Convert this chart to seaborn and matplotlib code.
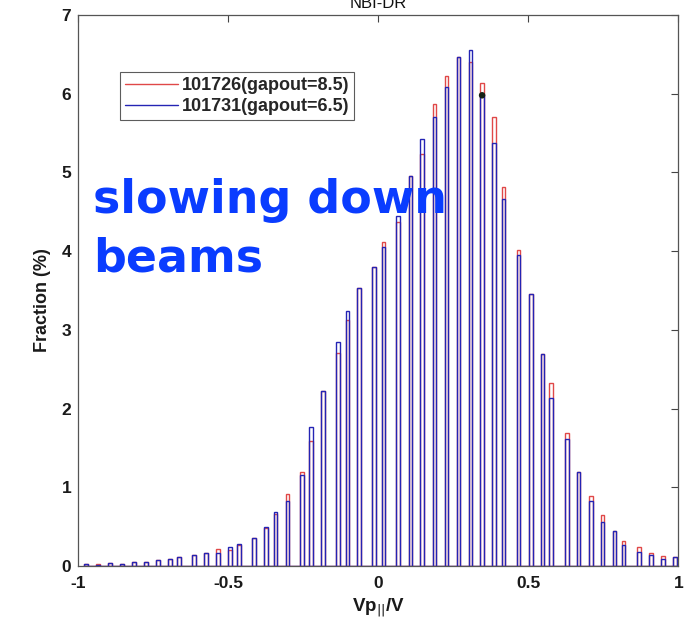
import numpy as np
import pandas as pd
import matplotlib
matplotlib.use("Agg")
import matplotlib.pyplot as plt
from matplotlib.lines import Line2D
import seaborn as sns

# ---- data ----
vpar = [-0.974, -0.935, -0.895, -0.855, -0.815, -0.774, -0.734, -0.694, -0.665, -0.614,
        -0.574, -0.534, -0.494, -0.464, -0.414, -0.374, -0.343, -0.303, -0.254, -0.225,
        -0.185, -0.135, -0.103, -0.064, -0.014, 0.017, 0.065, 0.107, 0.146, 0.187,
        0.227, 0.267, 0.307, 0.346, 0.386, 0.417, 0.467, 0.508, 0.547, 0.576,
        0.628, 0.667, 0.708, 0.747, 0.787, 0.817, 0.868, 0.909, 0.948, 0.988]

frac_101726 = [0.03, 0.025, 0.04, 0.03, 0.055, 0.055, 0.07, 0.085, 0.115, 0.14,
               0.165, 0.21, 0.20, 0.27, 0.36, 0.48, 0.66, 0.91, 1.20, 1.59,
               2.22, 2.71, 3.13, 3.53, 3.80, 4.12, 4.37, 4.95, 5.23, 5.87,
               6.23, 6.47, 6.40, 6.13, 5.70, 4.81, 4.02, 3.45, 2.69, 2.33,
               1.69, 1.19, 0.89, 0.65, 0.44, 0.32, 0.245, 0.17, 0.13, 0.11]

frac_101731 = [0.02, 0.015, 0.04, 0.03, 0.055, 0.05, 0.07, 0.085, 0.115, 0.14,
               0.165, 0.17, 0.245, 0.275, 0.36, 0.50, 0.69, 0.83, 1.15, 1.77,
               2.22, 2.84, 3.24, 3.53, 3.80, 4.05, 4.45, 4.95, 5.43, 5.70,
               6.08, 6.47, 6.56, 5.98, 5.37, 4.66, 3.95, 3.45, 2.69, 2.14,
               1.61, 1.19, 0.82, 0.56, 0.44, 0.27, 0.18, 0.14, 0.085, 0.11]

marker_x = [0.346]
marker_y = [5.98]

labels = ["101726(gapout=8.5)", "101731(gapout=6.5)"]
xticks = [-1, -0.5, 0, 0.5, 1]
xticklabels = ["-1", "-0.5", "0", "0.5", "1"]
yticks = [0, 1, 2, 3, 4, 5, 6, 7]

# ---- style ----
sns.set_style("white")
plt.rcParams["font.family"] = ["Liberation Sans", "DejaVu Sans"]

RED = "#e04848"
BLUE = "#2424b4"

fig = plt.figure(figsize=(6.99, 6.39), dpi=100)
W, H = 699, 639
ax = fig.add_axes([78.3 / W, 1 - 566 / H, 600 / W, 551 / H])

bw = 0.012
edges = np.sort(np.concatenate([np.array(vpar) - bw / 2, np.array(vpar) + bw / 2])).tolist()

df = pd.DataFrame({"vpar": vpar, "a": frac_101726, "b": frac_101731})
sns.histplot(data=df, x="vpar", weights="a", bins=edges, fill=False,
             element="bars", color=RED, linewidth=1.0, ax=ax)
sns.histplot(data=df, x="vpar", weights="b", bins=edges, fill=False,
             element="bars", color=BLUE, linewidth=1.0, ax=ax)
sns.scatterplot(x=marker_x, y=marker_y, color="#152015", s=22, ax=ax, zorder=5,
                edgecolor="none")

ax.set_xlim(-1, 1)
ax.set_ylim(0, 7)
ax.set_xticks(xticks)
ax.set_xticklabels(xticklabels)
ax.set_yticks(yticks)
for lab in ax.get_xticklabels() + ax.get_yticklabels():
    lab.set_fontweight("bold")
    lab.set_fontsize(12.5)
    lab.set_color("#1a1a1a")
ax.tick_params(axis="both", direction="in", length=5, width=0.8, color="#444444",
               top=True, right=True)
ax.tick_params(axis="x", pad=7)
ax.tick_params(axis="y", pad=5)
for s in ax.spines.values():
    s.set_visible(True)
    s.set_color("#555555")
    s.set_linewidth(0.9)

ax.set_ylabel("Fraction (%)", fontsize=13, fontweight="bold", color="#1a1a1a")
ax.yaxis.set_label_coords(-0.045, 0.483)
ax.set_xlabel("Vp$_{||}$/V", fontsize=13.5, fontweight="bold", color="#1a1a1a")
ax.xaxis.set_label_coords(0.5, -0.055)

handles = [Line2D([], [], color=RED, lw=1.0), Line2D([], [], color=BLUE, lw=1.0)]
leg = ax.legend(handles, labels, loc="upper left",
                bbox_to_anchor=((120 - 78.3) / 600, (566 - 72) / 551),
                borderaxespad=0, fancybox=False, frameon=True,
                handlelength=2.9, handletextpad=0.2, labelspacing=0.2,
                borderpad=0.3, prop={"weight": "bold", "size": 13})
leg.get_frame().set_edgecolor("#333333")
leg.get_frame().set_linewidth(0.8)

fig.text(378 / W, 1 - 8 / H, "NBI-DR", ha="center", va="baseline", fontsize=12,
         color="#111111")

fig.text(93 / W, 1 - 213 / H, "slowing down", ha="left", va="baseline",
         fontsize=33, fontweight="bold", color="#0a3cff", family=["DejaVu Sans"])
fig.text(93 / W, 1 - 272 / H, "beams", ha="left", va="baseline",
         fontsize=33, fontweight="bold", color="#0a3cff", family=["DejaVu Sans"])

fig.savefig("out.png", dpi=100)
